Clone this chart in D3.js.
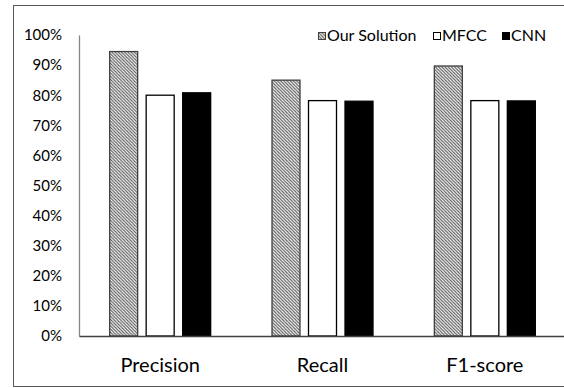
<!DOCTYPE html>
<html>
<head>
<meta charset="utf-8">
<script src="https://cdn.jsdelivr.net/npm/d3@7/dist/d3.min.js"></script>
<style>
  html, body { margin: 0; padding: 0; background: #fff; }
  svg { display: block; font-family: Lato, "Open Sans", sans-serif; }
</style>
</head>
<body>
<svg id="chart" width="564" height="388"></svg>
<script>
// Metric categories on the x axis
const categories = ["Precision", "Recall", "F1-score"];
// Series names, in legend order
const seriesNames = ["Our Solution", "MFCC", "CNN"];
// Scores per series (fraction), one per category
const ourSolution = [0.945, 0.85, 0.897];
const mfcc = [0.80, 0.782, 0.782];
const cnn = [0.808, 0.78, 0.781];
// Y axis tick values
const yTicks = [0, 0.1, 0.2, 0.3, 0.4, 0.5, 0.6, 0.7, 0.8, 0.9, 1.0];

const seriesValues = [ourSolution, mfcc, cnn];
const rows = categories.map((c, i) => ({
  category: c,
  values: seriesNames.map((s, j) => ({ series: s, value: seriesValues[j][i] }))
}));

const svg = d3.select("#chart");

// Outer frame
svg.append("rect")
  .attr("x", 13.5).attr("y", 5.5)
  .attr("width", 570).attr("height", 381)
  .attr("fill", "#fff")
  .attr("stroke", "#595959").attr("stroke-width", 1);

// Diagonal hatch used for the first series
const defs = svg.append("defs");
const pat = defs.append("pattern")
  .attr("id", "hatch")
  .attr("patternUnits", "userSpaceOnUse")
  .attr("width", 3.2).attr("height", 3.2);
pat.append("rect").attr("width", 3.2).attr("height", 3.2).attr("fill", "#fff");
pat.append("path")
  .attr("d", "M-1,-1 L4.2,4.2 M-1,2.2 L1,4.2 M2.2,-1 L4.2,1")
  .attr("stroke", "#555").attr("stroke-width", 1.1);

const plotLeft = 79, plotRight = 566, plotTop = 35, plotBottom = 336;

const x0 = d3.scaleBand().domain(categories).range([plotLeft, plotRight]);
const x1 = d3.scaleBand().domain(seriesNames)
  .range([x0.bandwidth() / 2 - 50.5, x0.bandwidth() / 2 + 50.5])
  .paddingInner(0.233);
const y = d3.scaleLinear().domain([0, 1]).range([plotBottom, plotTop]);

const fills = { "Our Solution": "url(#hatch)", "MFCC": "#fff", "CNN": "#000" };
const strokes = { "Our Solution": "#404040", "MFCC": "#000", "CNN": "#000" };

// Y axis
const yAxis = svg.append("g")
  .attr("transform", `translate(${plotLeft},0)`)
  .call(d3.axisLeft(y).tickValues(yTicks).tickFormat(d3.format(".0%")).tickSize(0).tickPadding(17));
yAxis.select(".domain").attr("stroke", "#868686").attr("stroke-width", 1.3);
yAxis.selectAll("text").attr("font-size", 15).attr("fill", "#000")
  .attr("font-family", "Lato, sans-serif");

// Bars
const groups = svg.append("g").selectAll("g")
  .data(rows).join("g")
  .attr("transform", d => `translate(${x0(d.category)},0)`);
groups.selectAll("rect")
  .data(d => d.values).join("rect")
  .attr("x", d => x1(d.series))
  .attr("width", x1.bandwidth())
  .attr("y", d => y(d.value))
  .attr("height", d => y(0) - y(d.value))
  .attr("fill", d => fills[d.series])
  .attr("stroke", d => strokes[d.series])
  .attr("stroke-width", 1.3);

// X axis (baseline with category labels)
const xAxis = svg.append("g")
  .attr("transform", `translate(0,${plotBottom})`)
  .call(d3.axisBottom(x0).tickSize(0).tickPadding(22));
xAxis.select(".domain").attr("stroke", "#404040").attr("stroke-width", 1.3);
xAxis.selectAll("text").attr("font-size", 20).attr("fill", "#000")
  .attr("font-family", "Lato, sans-serif");

// Legend
const legendX = [318, 433, 502];
const legend = svg.append("g").selectAll("g")
  .data(seriesNames).join("g")
  .attr("transform", (d, i) => `translate(${legendX[i]},32)`);
legend.append("rect")
  .attr("x", 0.5).attr("y", 0.5).attr("width", 7).attr("height", 7)
  .attr("fill", d => fills[d])
  .attr("stroke", d => strokes[d]).attr("stroke-width", 1);
legend.append("text")
  .attr("x", 9).attr("y", 9)
  .attr("font-size", 16)
  .attr("fill", "#000")
  .text(d => d);
</script>
</body>
</html>
